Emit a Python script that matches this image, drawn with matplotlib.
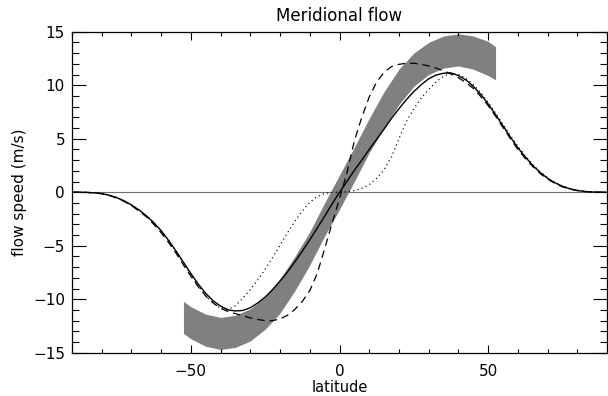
import matplotlib
matplotlib.use("Agg")
import matplotlib.pyplot as plt
from matplotlib.ticker import MultipleLocator

# latitude grid (deg), one value every 2.5 deg from -90 to 90
lat = [-90, -87.5, -85, -82.5, -80, -77.5, -75, -72.5, -70, -67.5, -65, -62.5,
       -60, -57.5, -55, -52.5, -50, -47.5, -45, -42.5, -40, -37.5, -35, -32.5,
       -30, -27.5, -25, -22.5, -20, -17.5, -15, -12.5, -10, -7.5, -5, -2.5,
       0, 2.5, 5, 7.5, 10, 12.5, 15, 17.5, 20, 22.5, 25, 27.5, 30, 32.5, 35,
       37.5, 40, 42.5, 45, 47.5, 50, 52.5, 55, 57.5, 60, 62.5, 65, 67.5, 70,
       72.5, 75, 77.5, 80, 82.5, 85, 87.5, 90]

# flow speeds (m/s)
solid = [0.0, 0.0, -0.02, -0.06, -0.13, -0.28, -0.5, -0.8, -1.2, -1.65, -2.2,
         -2.85, -3.6, -4.5, -5.5, -6.55, -7.6, -8.6, -9.45, -10.15, -10.65,
         -11.0, -11.1, -11.05, -10.8, -10.35, -9.8, -9.1, -8.3, -7.45, -6.5,
         -5.5, -4.45, -3.35, -2.25, -1.1,
         0.0, 1.0, 2.05, 3.0, 4.0, 4.95, 5.9, 6.9, 7.8, 8.65, 9.4, 10.05, 10.6,
         10.95, 11.12, 11.15, 10.9, 10.5, 9.9, 9.15, 8.25, 7.25, 6.2, 5.15,
         4.15, 3.3, 2.5, 1.85, 1.3, 0.88, 0.55, 0.32, 0.16, 0.07, 0.02, 0.0, 0.0]

dashed = [0.0, 0.0, -0.02, -0.06, -0.14, -0.3, -0.55, -0.85, -1.25, -1.75,
          -2.3, -3.0, -3.8, -4.7, -5.7, -6.8, -7.85, -8.85, -9.7, -10.35,
          -10.85, -11.15, -11.35, -11.55, -11.75, -11.9, -12.0, -12.0, -11.85,
          -11.5, -10.95, -10.2, -9.2, -7.6, -5.3, -2.9,
          -0.6, 1.8, 4.8, 7.0, 8.9, 10.3, 11.2, 11.75, 11.95, 12.05, 12.05,
          11.95, 11.8, 11.6, 11.35, 11.05, 10.7, 10.25, 9.7, 8.95, 8.1, 7.1,
          6.05, 5.0, 4.0, 3.15, 2.4, 1.75, 1.22, 0.82, 0.5, 0.3, 0.15, 0.06,
          0.02, 0.0, 0.0]

dotted = [0.0, 0.0, -0.02, -0.06, -0.13, -0.28, -0.5, -0.8, -1.2, -1.65, -2.2,
          -2.85, -3.6, -4.5, -5.5, -6.6, -7.7, -8.75, -9.65, -10.4, -10.85,
          -10.95, -10.6, -9.9, -9.1, -8.2, -7.2, -6.1, -4.95, -3.8, -2.7,
          -1.75, -0.95, -0.4, -0.12, -0.02,
          0.0, 0.04, 0.15, 0.35, 0.7, 1.3, 2.1, 3.3, 5.0, 6.6, 7.8, 8.8, 9.6,
          10.3, 10.85, 11.1, 11.0, 10.65, 10.05, 9.3, 8.4, 7.4, 6.35, 5.3, 4.3,
          3.4, 2.6, 1.9, 1.35, 0.9, 0.58, 0.33, 0.17, 0.07, 0.02, 0.0, 0.0]

# grey band (lower / upper edge)
lat_band = [-52.5, -50, -45, -40, -35, -30, -25, -20, -15, -10, -5, 0, 5, 10,
            15, 20, 25, 30, 35, 40, 45, 50, 52.5]
band_hi = [-10.2, -10.7, -11.4, -11.7, -11.5, -10.9, -9.8, -8.1, -6.0, -3.7,
           -1.0, 1.6, 4.2, 6.9, 9.4, 11.5, 13.0, 14.0, 14.6, 14.8, 14.6, 14.1,
           13.6]
band_lo = [-13.2, -13.7, -14.4, -14.7, -14.5, -13.9, -12.8, -11.3, -9.2, -6.8,
           -4.1, -1.6, 1.0, 3.7, 6.0, 8.2, 9.9, 11.0, 11.6, 11.8, 11.5, 10.9,
           10.5]

plt.rcParams["font.family"] = ["DejaVu Sans"]

fig = plt.figure(figsize=(6.08, 3.96), dpi=100)
ax = fig.add_axes([72 / 608, 1 - 352.7 / 396, 535 / 608, 321 / 396])

ax.fill_between(lat_band, band_lo, band_hi, color="#808080", lw=0, zorder=1)
ax.axhline(0, color="#707070", lw=0.8, zorder=2)
ax.plot(lat, solid, color="black", lw=1.0, zorder=3)
ax.plot(lat, dashed, color="black", lw=0.9, dashes=(6, 4), zorder=3)
ax.plot(lat, dotted, color="black", lw=0.9, dashes=(0.9, 2.6), zorder=3)

ax.set_xlim(-90, 90)
ax.set_ylim(-15, 15)
ax.xaxis.set_major_locator(MultipleLocator(50))
ax.xaxis.set_minor_locator(MultipleLocator(10))
ax.yaxis.set_major_locator(MultipleLocator(5))
ax.yaxis.set_minor_locator(MultipleLocator(1))
ax.tick_params(axis="both", which="both", direction="in", top=True, right=True,
               labelsize=11, width=0.8)
ax.tick_params(axis="x", which="major", length=6, pad=8)
ax.tick_params(axis="x", which="minor", length=3)
ax.tick_params(axis="y", which="major", length=10, pad=5)
ax.tick_params(axis="y", which="minor", length=5)
for s in ax.spines.values():
    s.set_linewidth(0.9)

ax.set_title("Meridional flow", fontsize=12, pad=8)
ax.set_xlabel("latitude", fontsize=10.5, labelpad=1)
ax.set_ylabel("flow speed (m/s)", fontsize=11, labelpad=4)

fig.savefig("out.png", dpi=100)
